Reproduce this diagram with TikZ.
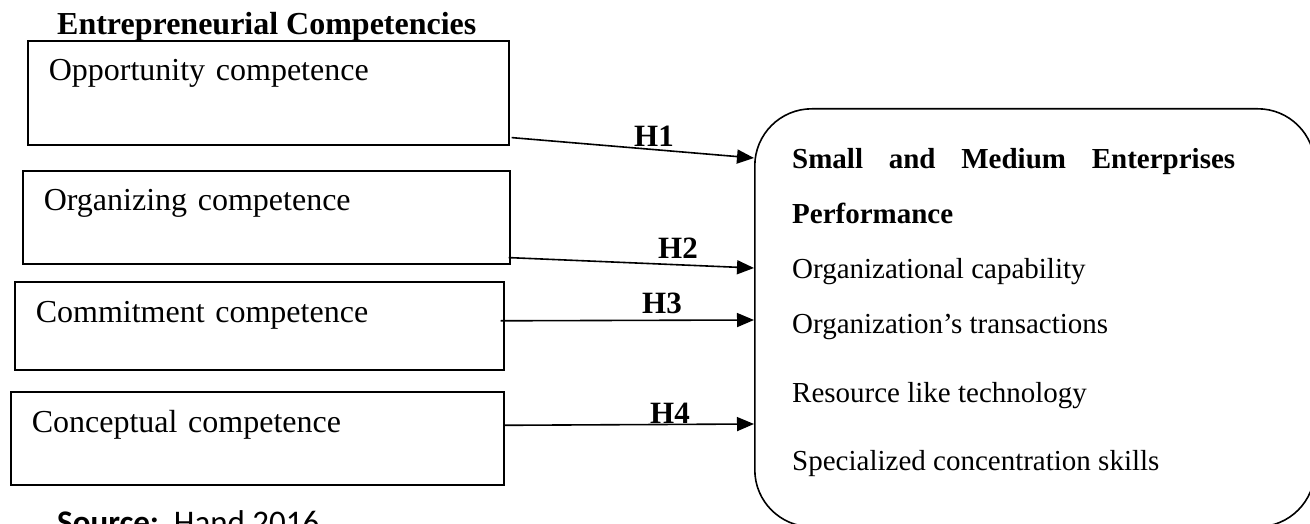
\documentclass[tikz,border=0pt]{standalone}
\usepackage{fontspec}
\setmainfont{Liberation Serif}
\newfontfamily\srcfont{Carlito}
\usetikzlibrary{arrows.meta}

\tikzset{
    compbox/.style={draw, line width=1.6pt, anchor=north west, inner xsep=21pt, inner ysep=0pt,
        align=left, font=\fontsize{32}{38}\selectfont},
    perf/.style={anchor=base west, inner sep=0pt, font=\fontsize{29}{34}\selectfont},
    hlabel/.style={anchor=base west, inner sep=0pt, font=\fontsize{31}{36}\selectfont\bfseries},
    hyarrow/.style={-{Triangle[length=17pt,width=14pt]}, line width=1.6pt}
}

\begin{document}
\begin{tikzpicture}[x=1pt, y=-1pt]
                        \useasboundingbox (0,0) rectangle (1310,524);

                        \node[anchor=base west, inner sep=0pt, font=\fontsize{32}{38}\selectfont\bfseries] (title) at (57,35) {Entrepreneurial Competencies};

                        \node[compbox, text width=439pt, text height=40pt, text depth=64pt] (opp) at (27,40) {Opportunity competence};
                        \node[compbox, text width=445pt, text height=40pt, text depth=53pt] (org) at (22,170) {Organizing competence};
                        \node[compbox, text width=447pt, text height=41pt, text depth=47pt] (com) at (14,281) {Commitment competence};
                        \node[compbox, text width=451pt, text height=41pt, text depth=52pt] (con) at (10,391) {Conceptual competence};

                        \node[draw, line width=1.6pt, rounded corners=57pt, anchor=north west, inner sep=0pt,
                            minimum width=560pt, minimum height=418pt] (sme) at (754,108) {};
                        \node[perf, font=\fontsize{29}{34}\selectfont\bfseries] (smeA) at (792,168) {\makebox[443pt][s]{Small and Medium Enterprises}};
                        \node[perf, font=\fontsize{29}{34}\selectfont\bfseries] (smeB) at (792,223) {Performance};
                        \node[perf] (cap) at (792,278) {Organizational capability};
                        \node[perf] (trn) at (792,333) {Organization’s transactions};
                        \node[perf] (res) at (792,402) {Resource like technology};
                        \node[perf] (spc) at (792,470) {Specialized concentration skills};

                        \draw[hyarrow] ([xshift=2pt, yshift=8pt]opp.south east) -- ([yshift=-50pt]sme.north west);
                        \draw[hyarrow] ([xshift=-2pt, yshift=7pt]org.south east) -- ([yshift=-160pt]sme.north west);
                        \draw[hyarrow] ([xshift=-4pt, yshift=5pt]com.east) -- ([yshift=-212pt]sme.north west);
                        \draw[hyarrow] ([xshift=-1pt, yshift=13pt]con.east) -- ([yshift=-316pt]sme.north west);

                        \node[hlabel] (H1) at (634,147) {H1};
                        \node[hlabel] (H2) at (658,258) {H2};
                        \node[hlabel] (H3) at (642,313) {H3};
                        \node[hlabel] (H4) at (650,423) {H4};

                        \node[anchor=base west, inner sep=0pt, font=\fontsize{33}{38}\srcfont] (src) at (57,533) {\textbf{Source:}\ \ Hand 2016};
                    \end{tikzpicture}
\end{document}
